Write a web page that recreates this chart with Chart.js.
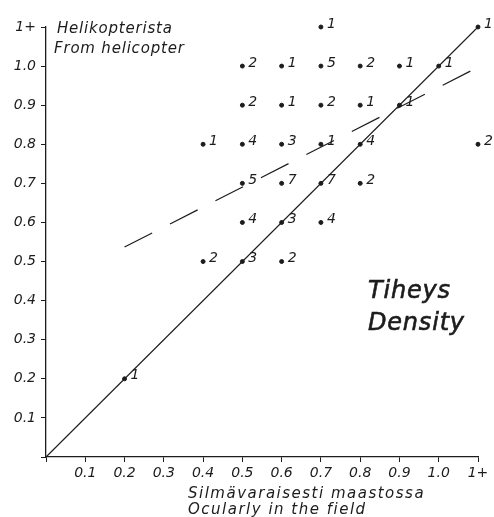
<!DOCTYPE html>
<html>
<head>
<meta charset="utf-8">
<script src="https://cdn.jsdelivr.net/npm/chart.js@4"></script>
<style>
  html, body { margin: 0; padding: 0; background: #fff; }
  #wrap { width: 494px; height: 517px; }
</style>
</head>
<body>
<div id="wrap"><canvas id="chart"></canvas></div>
<script>
// observations: x = ocular estimate, y = helicopter estimate, count = number of plots
const pointX = [0.7, 1.1,
  0.5, 0.6, 0.7, 0.8, 0.9, 1.0,
  0.5, 0.6, 0.7, 0.8, 0.9,
  0.4, 0.5, 0.6, 0.7, 0.8, 1.1,
  0.5, 0.6, 0.7, 0.8,
  0.5, 0.6, 0.7,
  0.4, 0.5, 0.6,
  0.2];
const pointY = [1.1, 1.1,
  1.0, 1.0, 1.0, 1.0, 1.0, 1.0,
  0.9, 0.9, 0.9, 0.9, 0.9,
  0.8, 0.8, 0.8, 0.8, 0.8, 0.8,
  0.7, 0.7, 0.7, 0.7,
  0.6, 0.6, 0.6,
  0.5, 0.5, 0.5,
  0.2];
const pointCounts = [1, 1,
  2, 1, 5, 2, 1, 1,
  2, 1, 2, 1, 1,
  1, 4, 3, 1, 4, 2,
  5, 7, 7, 2,
  4, 3, 4,
  2, 3, 2,
  1];

const identityX = [0, 1.1];
const identityY = [0, 1.1];
const trendX = [0.2, 1.09];
const trendY = [0.537, 0.992];

const tickLabel = (v) => (v > 1.05 ? "1+" : v < 0.05 ? "" : v.toFixed(1));

const ink = "#1c1c1c";
const font = "DejaVu Sans";

const textPlugin = {
  id: "notes",
  afterDatasetsDraw(chart) {
    const { ctx, scales } = chart;
    ctx.save();
    ctx.fillStyle = ink;
    ctx.textBaseline = "middle";
    ctx.textAlign = "left";
    ctx.font = `italic 14px "${font}"`;
    ctx.letterSpacing = "0px";
    pointCounts.forEach((n, i) => {
      const px = scales.x.getPixelForValue(pointX[i]);
      const py = scales.y.getPixelForValue(pointY[i]);
      ctx.fillText(String(n), px + 6, py - 3);
    });
    ctx.font = `italic 15px "${font}"`;
    ctx.letterSpacing = "0.8px";
    ctx.fillText("Helikopterista", 57, 29);
    ctx.fillText("From helicopter", 54, 49);
    ctx.letterSpacing = "1.5px";
    ctx.fillText("Silmävaraisesti maastossa", 188, 494);
    ctx.fillText("Ocularly in the field", 188, 510);
    ctx.font = `italic 24px "${font}"`;
    ctx.letterSpacing = "0.8px";
    ctx.lineWidth = 0.6;
    ctx.strokeStyle = ink;
    ctx.fillText("Tiheys", 368, 292);
    ctx.strokeText("Tiheys", 368, 292);
    ctx.fillText("Density", 368, 324);
    ctx.strokeText("Density", 368, 324);
    ctx.restore();
  },
};

new Chart(document.getElementById("chart"), {
  type: "scatter",
  data: {
    datasets: [
      {
        data: pointX.map((x, i) => ({ x, y: pointY[i] })),
        backgroundColor: ink,
        borderColor: ink,
        pointRadius: 2,
        clip: false,
      },
      {
        type: "line",
        data: identityX.map((x, i) => ({ x, y: identityY[i] })),
        borderColor: ink,
        borderWidth: 1.1,
        pointRadius: 0,
        clip: false,
      },
      {
        type: "line",
        data: trendX.map((x, i) => ({ x, y: trendY[i] })),
        borderColor: ink,
        borderWidth: 1.2,
        borderDash: [31, 20],
        pointRadius: 0,
      },
    ],
  },
  options: {
    responsive: true,
    maintainAspectRatio: false,
    animation: false,
    layout: { padding: { top: 27, right: 16, left: 0, bottom: 0 } },
    plugins: { legend: { display: false }, tooltip: { enabled: false } },
    scales: {
      x: {
        type: "linear",
        min: 0,
        max: 1.1,
        afterFit: (s) => { s.height = 60; },
        ticks: {
          stepSize: 0.1,
          color: ink,
          padding: 3,
          maxRotation: 0,
          autoSkip: false,
          font: { family: font, style: "italic", size: 14 },
          callback: tickLabel,
        },
        grid: { drawOnChartArea: false, drawTicks: true, tickLength: 5, color: ink },
        border: { display: true, color: ink, width: 1.3 },
      },
      y: {
        type: "linear",
        min: 0,
        max: 1.1,
        afterFit: (s) => { s.width = 46; },
        ticks: {
          stepSize: 0.1,
          color: ink,
          padding: 5,
          autoSkip: false,
          font: { family: font, style: "italic", size: 14 },
          callback: tickLabel,
        },
        grid: { drawOnChartArea: false, drawTicks: true, tickLength: 5, color: ink },
        border: { display: true, color: ink, width: 1.3 },
      },
    },
  },
  plugins: [textPlugin],
});
</script>
</body>
</html>
